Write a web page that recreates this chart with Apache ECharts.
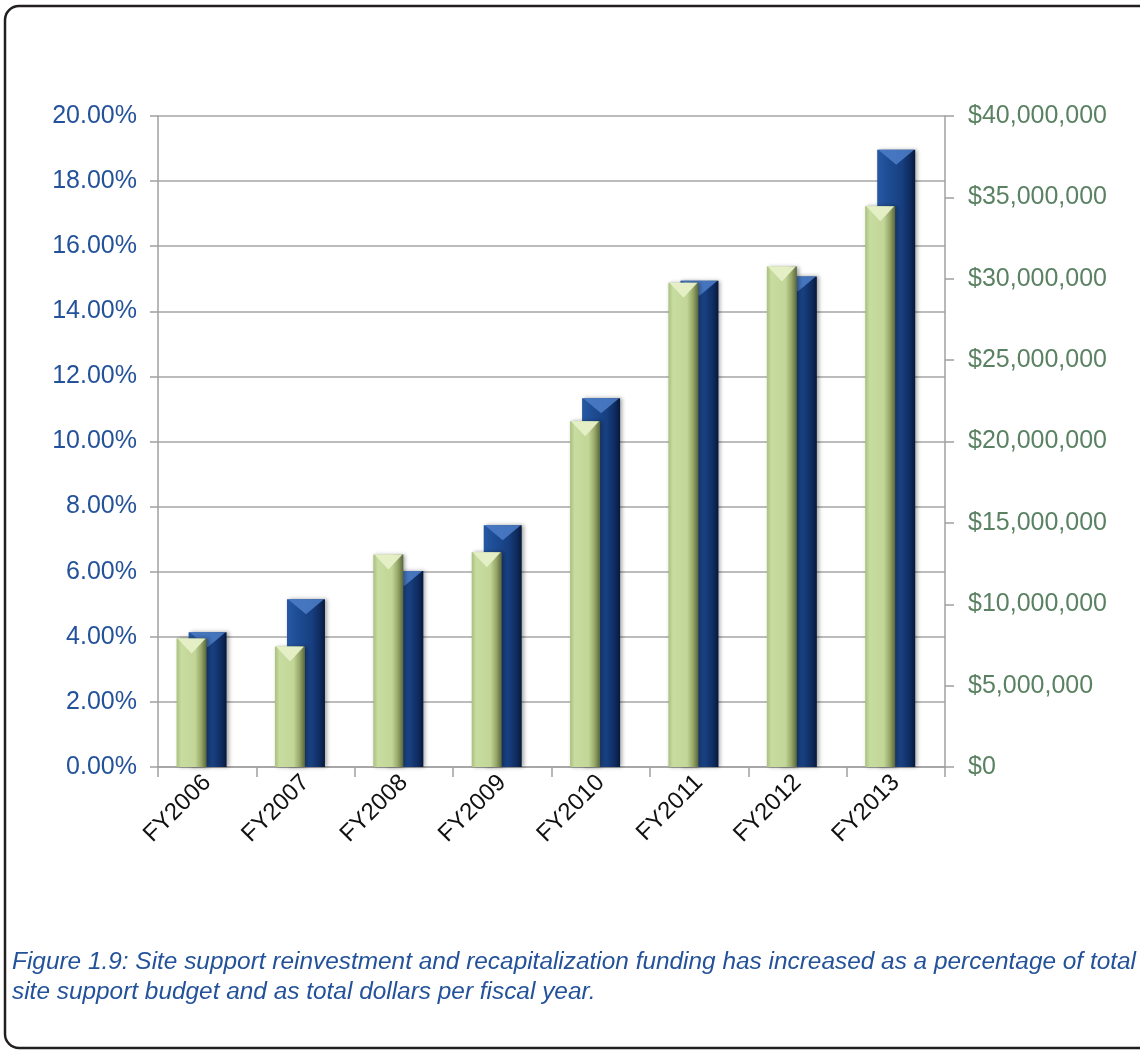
<!DOCTYPE html>
<html>
<head>
<meta charset="utf-8">
<script src="https://cdn.jsdelivr.net/npm/echarts@6/dist/echarts.min.js"></script>
<style>
  html, body { margin: 0; padding: 0; background: #ffffff; }
  #chart { width: 1140px; height: 1051px; }
</style>
</head>
<body>
<div id="chart"></div>
<script>
// ---- data ----
const categories = ['FY2006', 'FY2007', 'FY2008', 'FY2009', 'FY2010', 'FY2011', 'FY2012', 'FY2013'];
// percentage of total site support budget (left axis)
const percentValues = [4.14, 5.15, 6.02, 7.43, 11.33, 14.94, 15.07, 18.96];
// total dollars (right axis)
const dollarValues = [7900000, 7400000, 13050000, 13200000, 21250000, 29750000, 30750000, 34450000];
const percentTicks = { min: 0, max: 20, interval: 2 };
const dollarTicks = { min: 0, max: 40000000, interval: 5000000 };
const captionLines = [
  'Figure 1.9: Site support reinvestment and recapitalization funding has increased as a percentage of total',
  'site support budget and as total dollars per fiscal year.'
];

// ---- styles ----
const FONT = '"Liberation Sans", Arial, sans-serif';
const GREEN_W = 30, BLUE_W = 38, SPACER_W = 34, GAP = '-60%';

const greenFill = new echarts.graphic.LinearGradient(0, 0, 1, 0, [
  { offset: 0, color: '#aac07e' },
  { offset: 0.15, color: '#c7dc9f' },
  { offset: 0.62, color: '#c2d698' },
  { offset: 0.82, color: '#96a768' },
  { offset: 1, color: '#59653c' }
]);
const blueFill = new echarts.graphic.LinearGradient(0, 0, 1, 0, [
  { offset: 0, color: '#2858a2' },
  { offset: 0.25, color: '#1e4e96' },
  { offset: 0.65, color: '#173f80' },
  { offset: 0.88, color: '#0e2a5c' },
  { offset: 1, color: '#07183a' }
]);

const chart = echarts.init(document.getElementById('chart'), null, { renderer: 'canvas' });

const option = {
  backgroundColor: '#ffffff',
  animation: false,
  grid: { left: 158, right: 195, top: 116, bottom: 284, containLabel: false },
  xAxis: {
    type: 'category',
    data: categories,
    axisLine: { lineStyle: { color: '#a0a0a0', width: 1.5 } },
    axisTick: { show: true, length: 10, lineStyle: { color: '#a0a0a0', width: 1.5 } },
    axisLabel: {
      rotate: 45, margin: 12, color: '#111111', fontFamily: FONT, fontSize: 24
    },
    splitLine: { show: false }
  },
  yAxis: [
    {
      type: 'value',
      position: 'left',
      min: percentTicks.min, max: percentTicks.max, interval: percentTicks.interval,
      axisLine: { show: true, lineStyle: { color: '#a0a0a0', width: 1.5 } },
      axisTick: { show: true, length: 8, lineStyle: { color: '#a0a0a0', width: 1.5 } },
      axisLabel: {
        margin: 21, color: '#24529a', fontFamily: FONT, fontSize: 25,
        formatter: v => v.toFixed(2) + '%'
      },
      splitLine: { show: true, lineStyle: { color: '#a6a6a6', width: 1.5 } }
    },
    {
      type: 'value',
      position: 'right',
      min: dollarTicks.min, max: dollarTicks.max, interval: dollarTicks.interval,
      axisLine: { show: true, lineStyle: { color: '#a0a0a0', width: 1.5 } },
      axisTick: { show: true, length: 9, lineStyle: { color: '#a0a0a0', width: 1.5 } },
      axisLabel: {
        margin: 23, color: '#5a8262', fontFamily: FONT, fontSize: 25,
        formatter: v => '$' + Math.round(v).toString().replace(/\B(?=(\d{3})+(?!\d))/g, ',')
      },
      splitLine: { show: false }
    }
  ],
  graphic: [
    {
      type: 'rect', silent: true, z: 100,
      shape: { x: 5, y: 6, width: 1160, height: 1042, r: 14 },
      style: { fill: 'none', stroke: '#231f20', lineWidth: 2.5 }
    },
    {
      type: 'text', left: 12, top: 950, silent: true,
      style: { text: captionLines[0], fill: '#24529a', font: 'italic 24.4px ' + FONT }
    },
    {
      type: 'text', left: 12, top: 980, silent: true,
      style: { text: captionLines[1], fill: '#24529a', font: 'italic 24.4px ' + FONT }
    }
  ],
  series: [
    {
      name: 'Dollars', type: 'bar', yAxisIndex: 1, data: dollarValues,
      barWidth: GREEN_W, barGap: GAP, z: 4,
      itemStyle: { color: greenFill, shadowBlur: 4, shadowColor: 'rgba(0,0,0,0.35)', shadowOffsetX: 2 }
    },
    {
      name: 'Percent', type: 'bar', yAxisIndex: 0, data: percentValues,
      barWidth: BLUE_W, barGap: GAP, z: 2,
      itemStyle: { color: blueFill, shadowBlur: 4, shadowColor: 'rgba(0,0,0,0.35)', shadowOffsetX: 2 }
    },
    {
      name: 'spacer', type: 'bar', yAxisIndex: 0, data: [],
      barWidth: SPACER_W, barGap: GAP
    },
    // bevel caps
    {
      name: 'DollarsCap', type: 'pictorialBar', yAxisIndex: 1, data: dollarValues,
      barWidth: GREEN_W, barGap: GAP, z: 5,
      symbol: 'path://M0,0 L30,0 L15,14 Z', symbolKeepAspect: false,
      symbolSize: [GREEN_W - 2, 15], symbolPosition: 'end', symbolOffset: [0, 0],
      itemStyle: { color: '#e6f0c8', opacity: 0.95 }
    },
    {
      name: 'PercentCap', type: 'pictorialBar', yAxisIndex: 0, data: percentValues,
      barWidth: BLUE_W, barGap: GAP, z: 3,
      symbol: 'path://M0,0 L38,0 L19,14 Z', symbolKeepAspect: false,
      symbolSize: [BLUE_W - 2, 15], symbolPosition: 'end', symbolOffset: [0, 0],
      itemStyle: { color: '#4a7bc4', opacity: 0.9 }
    },
    {
      name: 'spacerCap', type: 'pictorialBar', yAxisIndex: 0, data: [],
      barWidth: SPACER_W, barGap: GAP, symbol: 'rect', symbolSize: [0, 0]
    }
  ]
};

chart.setOption(option);
</script>
</body>
</html>
